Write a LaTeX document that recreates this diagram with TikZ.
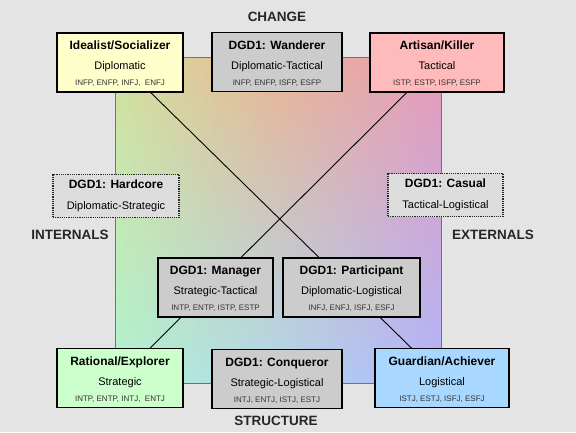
\documentclass[tikz,border=0pt]{standalone}
\usepackage{fontspec}
\setmainfont{Liberation Sans}
\definecolor{bgc}{HTML}{E4E4E4}
\definecolor{idealc}{HTML}{FFFFCC}
\definecolor{grayc}{HTML}{CCCCCC}
\definecolor{artc}{HTML}{FFBBBB}
\definecolor{ratc}{HTML}{CCFFCC}
\definecolor{guardc}{HTML}{A8D8FF}
\definecolor{dotc}{HTML}{DDDDDD}
\definecolor{tL}{HTML}{D4E09C}
\definecolor{tM}{HTML}{EAB494}
\definecolor{tR}{HTML}{E89AB8}
\definecolor{mL}{HTML}{A8E8A0}
\definecolor{mM}{HTML}{CAC8C8}
\definecolor{mR}{HTML}{C0BCF0}
\definecolor{bL}{HTML}{B0F4D0}
\definecolor{bM}{HTML}{B0D8EC}
\definecolor{bR}{HTML}{B0B4FC}
\tikzset{
  cbox/.style={draw=black, line width=1.3pt, minimum height=59pt, inner sep=0pt},
  dbox/.style={draw=black!85, line width=1.2pt, densely dotted, fill=dotc, minimum height=43pt, inner sep=0pt},
  ttl/.style={anchor=base, inner sep=0pt, font=\fontsize{12}{14}\selectfont\bfseries},
  sub/.style={anchor=base, inner sep=0pt, font=\fontsize{11}{13}\selectfont},
  sml/.style={anchor=base, inner sep=0pt, font=\fontsize{8}{10}\selectfont, text=black!80},
  axl/.style={anchor=base, inner sep=0pt, font=\fontsize{13.5}{15}\selectfont\bfseries, text=black!85},
  conn/.style={draw=black, line width=0.9pt}
}
\newcommand{\tribox}[8]{%
  \node[cbox, fill=#4, minimum width=#5pt] (#1) at (#2,#3) {};
  \node[ttl] (#1t) at ([yshift=12.7pt]#1.center) {#6};
  \node[sub] (#1s) at ([yshift=-7pt]#1.center) {#7};
  \node[sml] (#1m) at ([yshift=-23pt]#1.center) {#8};
}
\begin{document}
\begin{tikzpicture}[x=1pt,y=-1pt]
\useasboundingbox (0,0) rectangle (576,432);
\fill[bgc] (0,0) rectangle (576,432);
% gradient square built from vertical strips
\begin{scope}[y=1pt]
\foreach \i in {0,...,39}{
  \pgfmathsetmacro{\xa}{115+\i*8.15}
  \pgfmathsetmacro{\xb}{\xa+8.7}
  \pgfmathsetmacro{\f}{(\i+0.5)/40}
  \ifdim \f pt < 0.5pt
    \pgfmathtruncatemacro{\p}{round(200*\f)}
    \colorlet{ct}{tM!\p!tL}\colorlet{cm}{mM!\p!mL}\colorlet{cb}{bM!\p!bL}
  \else
    \pgfmathtruncatemacro{\p}{round(200*\f-100)}
    \colorlet{ct}{tR!\p!tM}\colorlet{cm}{mR!\p!mM}\colorlet{cb}{bR!\p!bM}
  \fi
  \shade[top color=ct, middle color=cm, bottom color=cb] (\xa,-57) rectangle ({min(\xb,441)},-383);
}
\end{scope}
\draw[black!55, line width=0.6pt] (115,57) rectangle (441,383);
% connectors between corner boxes
\coordinate (cI) at (120,62.5);
\coordinate (cG) at (442,378);
\coordinate (cA) at (437,62.5);
\coordinate (cR) at (120,378);
\draw[conn] (cI) -- (cG);
\draw[conn] (cA) -- (cR);
\tribox{ideal}{120}{62.5}{idealc}{126}{Idealist/Socializer}{Diplomatic}{INFP, ENFP, INFJ,\ \ ENFJ}
\tribox{wand}{277}{62}{grayc}{130}{DGD1: Wanderer}{Diplomatic-Tactical}{INFP, ENFP, ISFP, ESFP}
\tribox{art}{437}{62.5}{artc}{134}{Artisan/Killer}{Tactical}{ISTP, ESTP, ISFP, ESFP}
\tribox{mana}{215.5}{287.5}{grayc}{115}{DGD1: Manager}{Strategic-Tactical}{INTP, ENTP, ISTP, ESTP}
\tribox{part}{351.5}{287.5}{grayc}{137}{DGD1: Participant}{Diplomatic-Logistical}{INFJ, ENFJ, ISFJ, ESFJ}
\tribox{rat}{120}{378}{ratc}{126}{Rational/Explorer}{Strategic}{INTP, ENTP, INTJ,\ \ ENTJ}
\tribox{conq}{277}{379}{grayc}{130}{DGD1: Conqueror}{Strategic-Logistical}{INTJ, ENTJ, ISTJ, ESTJ}
\tribox{guard}{442}{378}{guardc}{134}{Guardian/Achiever}{Logistical}{ISTJ, ESTJ, ISFJ, ESFJ}
% dotted boxes
\node[dbox, minimum width=126pt] (hard) at (116,196) {};
\node[ttl] (hardt) at ([yshift=7.3pt]hard.center) {DGD1: Hardcore};
\node[sub] (hards) at ([yshift=-13pt]hard.center) {Diplomatic-Strategic};
\node[dbox, minimum width=115pt] (cas) at (445.5,195) {};
\node[ttl] (cast) at ([yshift=7.3pt]cas.center) {DGD1: Casual};
\node[sub] (cass) at ([yshift=-13pt]cas.center) {Tactical-Logistical};
% axis labels
\node[axl] (change) at (277,21) {CHANGE};
\node[axl] (struct) at (276,425) {STRUCTURE};
\node[axl] (intl) at (70,239) {INTERNALS};
\node[axl] (extl) at (493,239) {EXTERNALS};
\end{tikzpicture}
\end{document}
